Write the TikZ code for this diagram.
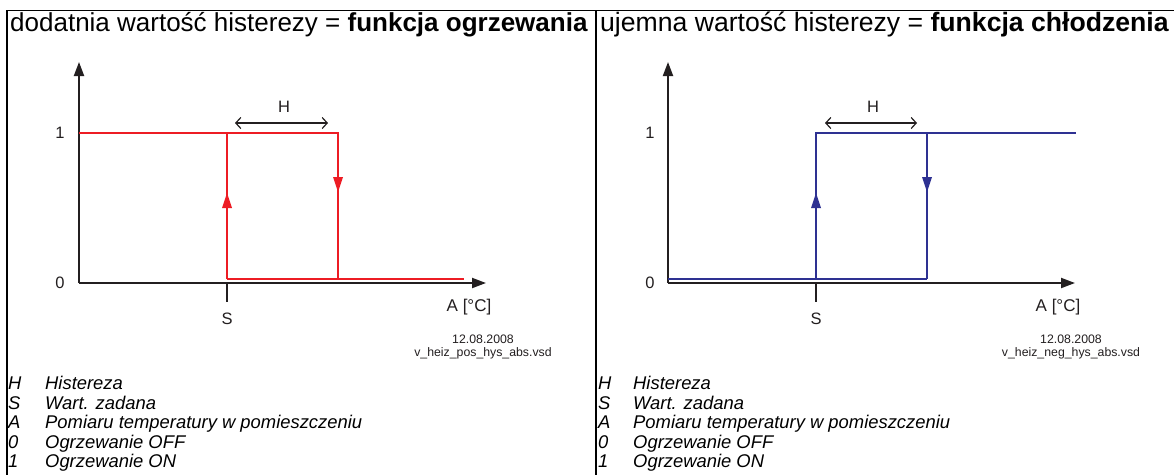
\documentclass[tikz,border=0pt]{standalone}
\usepackage{fontspec}
\setmainfont{Liberation Sans}
\usetikzlibrary{arrows.meta}
\definecolor{hred}{RGB}{237,28,36}
\definecolor{hblue}{RGB}{46,49,146}
\definecolor{axisc}{RGB}{35,31,32}
\tikzset{
  frame/.style={draw=black,line width=1.1pt},
  axis/.style={draw=axisc,line width=2pt,-{Triangle[length=14pt,width=10pt]}},
  tick/.style={draw=axisc,line width=1.6pt},
  curveR/.style={draw=hred,line width=1.8pt},
  curveB/.style={draw=hblue,line width=1.8pt},
  hys/.style={draw=axisc,line width=1.2pt,{Straight Barb[length=5pt,width=11pt]}-{Straight Barb[length=5pt,width=11pt]}},
  ticklbl/.style={font=\fontsize{16.5}{18}\selectfont,text=axisc,inner sep=0pt},
  small/.style={font=\fontsize{12.3}{14}\selectfont,text=axisc,inner sep=0pt,align=center},
  head/.style={font=\fontsize{26}{30}\selectfont,anchor=base west,inner sep=0pt},
  legend/.style={font=\fontsize{18.4}{20}\selectfont\itshape,anchor=base west,inner sep=0pt},
}
\begin{document}
\begin{tikzpicture}[x=1pt,y=-1pt]
\useasboundingbox (0,0) rectangle (1174,475);
\fill[white] (0,0) rectangle (1174,475);
% frame
\draw[frame] (7,10.5) -- (1174,10.5);
\draw[frame] (7,10) -- (7,475);
\draw[frame] (596,10) -- (596,475);
% headers
\node[head] (h1) at (10,31) {dodatnia wartość histerezy = \textbf{funkcja ogrzewania}};
\node[head,font=\fontsize{26.6}{30}\selectfont] (h2) at (600,31) {ujemna wartość histerezy = \textbf{funkcja chłodzenia}};

% ===== left chart =====
\coordinate (Lo) at (79,283);
\coordinate (Ly) at (79,62);
\coordinate (Lx) at (486,283);
\draw[axis] (Lo) -- (Ly);
\draw[axis] (Lo) -- (Lx);
\node[ticklbl] (L1) at (60,133) {1};
\node[ticklbl] (L0) at (60,283) {0};
\coordinate (La) at (79,133);
\coordinate (Lb) at (338,133);
\coordinate (Lc) at (338,279);
\coordinate (Ld) at (464,279);
\coordinate (Le) at (227,279);
\coordinate (Lf) at (227,133);
\draw[curveR] (La) -- (Lb) -- (Lc);
\draw[curveR] (Le) -- (Lf);
\draw[curveR,line width=1.5pt] (Le) -- (Ld);
\fill[hred] (227,193) -- (222,208) -- (232,208) -- cycle;
\fill[hred] (338,192) -- (333,177) -- (343,177) -- cycle;
\coordinate (LsT) at (227,283);
\coordinate (LsB) at (227,302);
\draw[tick] (LsT) -- (LsB);
\node[ticklbl] (LS) at (227,319) {S};
\coordinate (LhA) at (235,123);
\coordinate (LhB) at (328,123);
\draw[hys] (LhA) -- (LhB);
\node[ticklbl] (LH) at (284,107) {H};
\node[ticklbl,font=\fontsize{17}{19}\selectfont] (LA) at (469,307) {A [°C]};
\node[small] (Ld1) at (483,339) {12.08.2008};
\node[small] (Ld2) at (483,353) {v\_heiz\_pos\_hys\_abs.vsd};

% ===== right chart =====
\coordinate (Ro) at (668,283);
\coordinate (Ry) at (668,62);
\coordinate (Rx) at (1075,283);
\draw[axis] (Ro) -- (Ry);
\draw[axis] (Ro) -- (Rx);
\node[ticklbl] (R1) at (650,133) {1};
\node[ticklbl] (R0) at (650,283) {0};
\coordinate (Ra) at (668,279);
\coordinate (Rb) at (927,279);
\coordinate (Rc) at (927,133);
\coordinate (Rd) at (816,279);
\coordinate (Re) at (816,133);
\coordinate (Rf) at (1076,133);
\draw[curveB,line width=1.5pt] (Ra) -- (Rb);
\draw[curveB] (Rb) -- (Rc);
\draw[curveB] (Rd) -- (Re) -- (Rf);
\fill[hblue] (816,193) -- (811,208) -- (821,208) -- cycle;
\fill[hblue] (927,192) -- (922,177) -- (932,177) -- cycle;
\coordinate (RsT) at (816,283);
\coordinate (RsB) at (816,302);
\draw[tick] (RsT) -- (RsB);
\node[ticklbl] (RS) at (816,319) {S};
\coordinate (RhA) at (825,123);
\coordinate (RhB) at (917,123);
\draw[hys] (RhA) -- (RhB);
\node[ticklbl] (RH) at (873,107) {H};
\node[ticklbl,font=\fontsize{17}{19}\selectfont] (RA) at (1058,307) {A [°C]};
\node[small] (Rd1) at (1071,339) {12.08.2008};
\node[small] (Rd2) at (1071,353) {v\_heiz\_neg\_hys\_abs.vsd};

% ===== legends =====
\begin{scope}
\clip (0,0) rectangle (1174,475);
\foreach \x/\t [count=\i] in {H/Histereza, S/Wart. zadana, A/Pomiaru temperatury w pomieszczeniu, 0/Ogrzewanie OFF, 1/Ogrzewanie ON}{
  \pgfmathsetmacro{\yy}{370+19.5*\i}
  \node[legend] (lk\i) at (8,\yy) {\x};
  \node[legend] (lt\i) at (45,\yy) {\t};
  \node[legend] (rk\i) at (598,\yy) {\x};
  \node[legend] (rt\i) at (633,\yy) {\t};
}
\end{scope}
\end{tikzpicture}
\end{document}
